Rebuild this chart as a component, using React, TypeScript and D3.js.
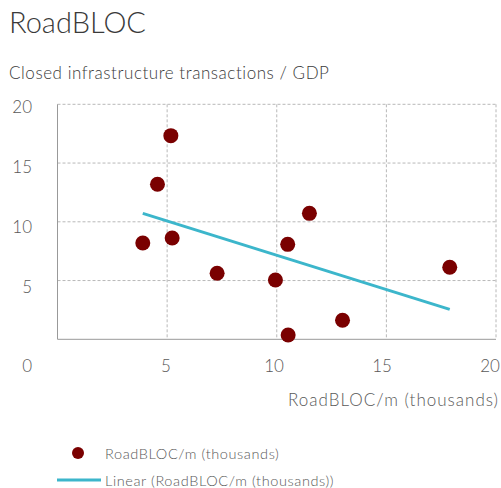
import React, { useRef, useEffect } from 'react';
import * as d3 from 'd3';

// scatter values
const roadblocX = [5.17, 4.56, 3.89, 5.23, 7.28, 9.94, 10.5, 11.49, 10.52, 13.0, 17.89];
const gdpY = [17.33, 13.19, 8.2, 8.62, 5.62, 5.05, 8.08, 10.72, 0.37, 1.62, 6.13];
// linear trend end points
const trendX = [3.89, 17.89];
const trendY = [10.72, 2.55];
const xTicks = [5, 10, 15, 20];
const yTicks = [5, 10, 15, 20];
const title = 'RoadBLOC';
const subtitle = 'Closed infrastructure transactions / GDP';
const xTitle = 'RoadBLOC/m (thousands)';
const legendLabels = ['RoadBLOC/m (thousands)', 'Linear (RoadBLOC/m (thousands))'];

const W = 501;
const H = 488;
const FONT = "Lato, 'Open Sans', sans-serif";

const App = () => {
    const svgRef = useRef<SVGSVGElement>(null);

    useEffect(() => {
        if (!svgRef.current) return;
        const svg = d3.select(svgRef.current);
        svg.selectAll('*').remove();

        const left = 57.5, right = 496, top = 104.3, bottom = 339.3;
        const x = d3.scaleLinear().domain([0, 20]).range([left, right]);
        const y = d3.scaleLinear().domain([0, 20]).range([bottom, top]);
        // tick labels sit slightly off the gridlines in the original
        const xLab = d3.scaleLinear().domain([5, 20]).range([166, 490]);
        const yLab = d3.scaleLinear().domain([5, 20]).range([286, 106]);

        svg.append('text').attr('x', 9).attr('y', 33)
            .attr('font-family', FONT).attr('font-weight', 300).attr('font-size', 29)
            .attr('fill', '#3a3a3a').text(title);
        svg.append('text').attr('x', 9).attr('y', 79)
            .attr('font-family', FONT).attr('font-weight', 300).attr('font-size', 17)
            .attr('letter-spacing', 0.55)
            .attr('fill', '#3a3a3a').text(subtitle);

        const grid = svg.append('g').attr('stroke', '#b8b8b8').attr('stroke-dasharray', '3,2').attr('stroke-width', 1);
        grid.selectAll('.hg').data(yTicks).enter().append('line')
            .attr('x1', left).attr('x2', right)
            .attr('y1', d => y(d)).attr('y2', d => y(d));
        grid.selectAll('.vg').data(xTicks).enter().append('line')
            .attr('y1', top).attr('y2', bottom)
            .attr('x1', d => x(d)).attr('x2', d => x(d));

        svg.append('line').attr('x1', left).attr('x2', left).attr('y1', top).attr('y2', bottom)
            .attr('stroke', '#999').attr('stroke-width', 1);
        svg.append('line').attr('x1', left).attr('x2', right).attr('y1', bottom).attr('y2', bottom)
            .attr('stroke', '#999').attr('stroke-width', 1);

        const labStyle = (s: any) => s.attr('font-family', FONT).attr('font-weight', 300)
            .attr('font-size', 17).attr('fill', '#595959').attr('dominant-baseline', 'central');

        svg.selectAll('.yl').data(yTicks).enter().append('text')
            .call(labStyle).attr('text-anchor', 'end')
            .attr('x', 32).attr('y', d => yLab(d)).text(d => d);
        svg.append('text').call(labStyle).attr('text-anchor', 'end')
            .attr('x', 32).attr('y', 365).text('0');
        svg.selectAll('.xl').data(xTicks).enter().append('text')
            .call(labStyle).attr('text-anchor', 'middle')
            .attr('x', d => xLab(d)).attr('y', 365).text(d => d);

        svg.append('text').call(labStyle).attr('text-anchor', 'end')
            .attr('letter-spacing', 1)
            .attr('x', 499).attr('y', 399).text(xTitle);

        svg.append('line')
            .attr('x1', x(trendX[0])).attr('y1', y(trendY[0]))
            .attr('x2', x(trendX[1])).attr('y2', y(trendY[1]))
            .attr('stroke', '#3cb6cb').attr('stroke-width', 3);

        svg.selectAll('.pt').data(roadblocX).enter().append('circle')
            .attr('cx', d => x(d)).attr('cy', (d, i) => y(gdpY[i]))
            .attr('r', 7.5).attr('fill', '#7a0000');

        // legend
        svg.append('circle').attr('cx', 78).attr('cy', 453).attr('r', 6).attr('fill', '#7a0000');
        svg.append('line').attr('x1', 57).attr('x2', 101).attr('y1', 480).attr('y2', 480)
            .attr('stroke', '#3cb6cb').attr('stroke-width', 3);
        const legStyle = (s: any) => s.attr('font-family', FONT).attr('font-weight', 300)
            .attr('font-size', 14.5).attr('letter-spacing', 0.6)
            .attr('fill', '#595959').attr('dominant-baseline', 'central');
        svg.append('text').call(legStyle).attr('x', 105).attr('y', 453).text(legendLabels[0]);
        svg.append('text').call(legStyle).attr('x', 105).attr('y', 480).text(legendLabels[1]);
    }, []);

    return (
        <svg ref={svgRef} width={W} height={H}
            style={{ position: 'absolute', left: 0, top: 0, background: '#fff' }} />
    );
};

export default App;
